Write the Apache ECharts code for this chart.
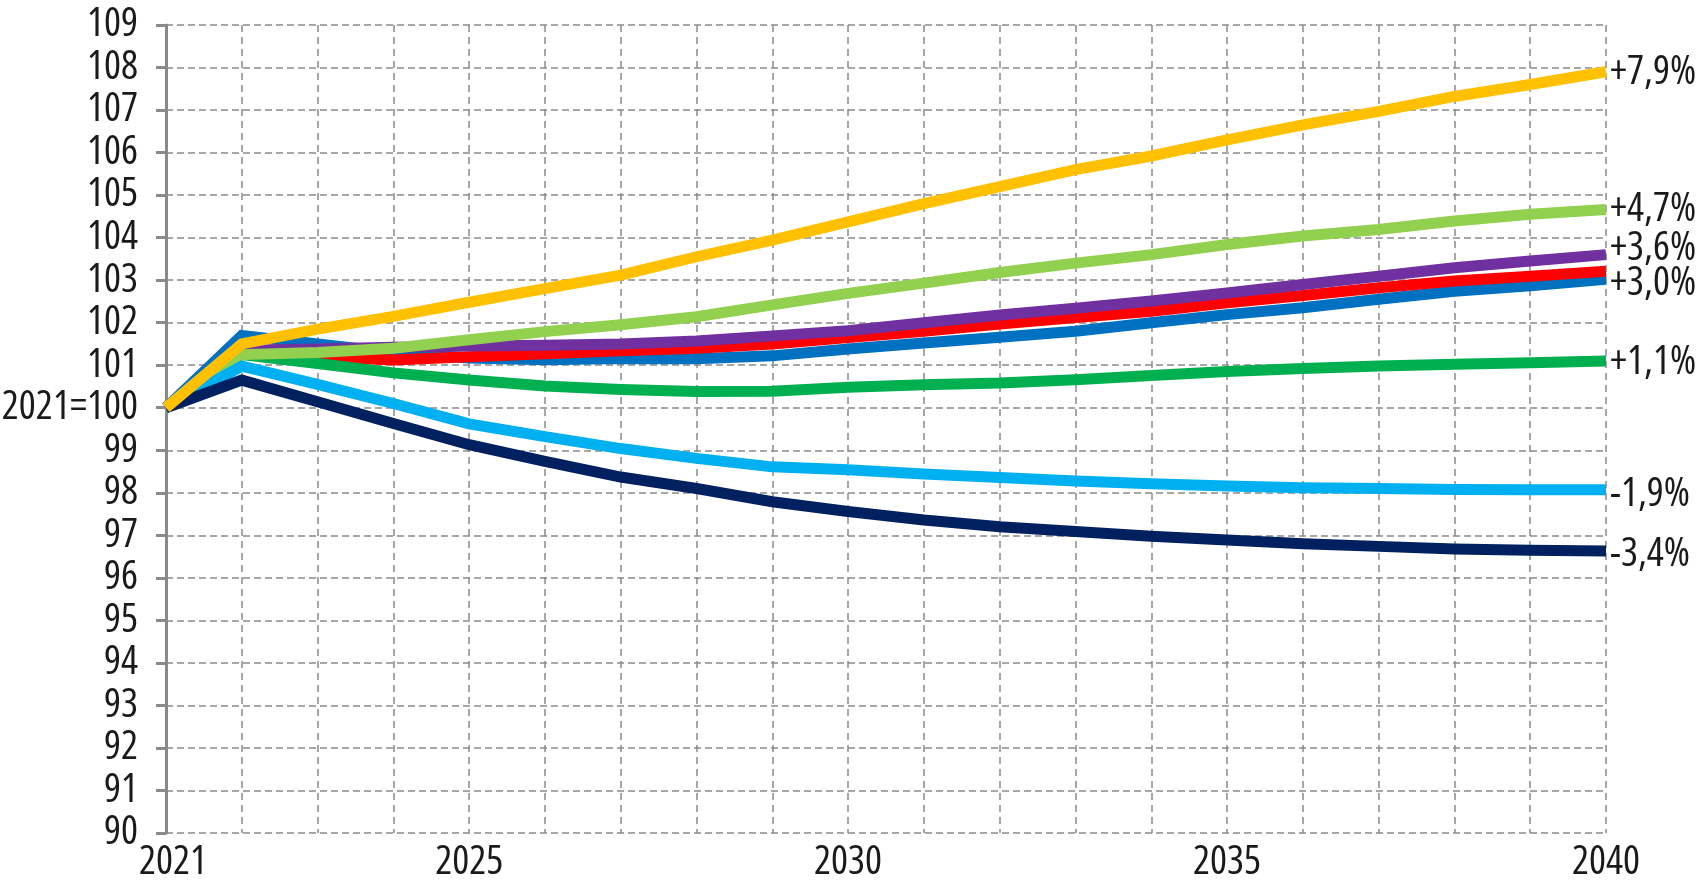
<!DOCTYPE html>
<html>
<head>
<meta charset="utf-8">
<script src="https://cdn.jsdelivr.net/npm/echarts@6/dist/echarts.min.js"></script>
<style>
html,body{margin:0;padding:0;background:#fff;}
#chart{width:1705px;height:881px;}
</style>
</head>
<body>
<div id="chart"></div>
<script>
const years = [2021,2022,2023,2024,2025,2026,2027,2028,2029,2030,2031,2032,2033,2034,2035,2036,2037,2038,2039,2040];
const xTickLabels = [2021, 2025, 2030, 2035, 2040];
const baseLabel = '2021=100';

const blue       = [100,101.7,101.5,101.3,101.17,101.13,101.16,101.15,101.22,101.38,101.52,101.66,101.8,102.0,102.19,102.35,102.55,102.74,102.87,103.02];
const red        = [100,101.3,101.2,101.12,101.2,101.27,101.34,101.4,101.5,101.65,101.8,101.97,102.12,102.27,102.47,102.64,102.82,102.98,103.09,103.21];
const purple     = [100,101.35,101.38,101.42,101.45,101.47,101.5,101.57,101.69,101.81,102.0,102.18,102.34,102.51,102.7,102.9,103.09,103.29,103.45,103.6];
const green      = [100,101.25,101.04,100.82,100.65,100.51,100.43,100.38,100.39,100.48,100.54,100.58,100.66,100.76,100.85,100.92,100.98,101.02,101.06,101.1];
const lightGreen = [100,101.25,101.3,101.4,101.6,101.79,101.95,102.14,102.42,102.69,102.93,103.18,103.4,103.6,103.84,104.04,104.19,104.39,104.55,104.66];
const lightBlue  = [100,100.98,100.55,100.1,99.62,99.32,99.04,98.81,98.61,98.54,98.44,98.36,98.28,98.21,98.16,98.12,98.1,98.08,98.07,98.07];
const navy       = [100,100.65,100.14,99.63,99.13,98.74,98.37,98.1,97.79,97.56,97.36,97.2,97.09,96.98,96.89,96.8,96.74,96.68,96.65,96.63];
const yellow     = [100,101.5,101.85,102.15,102.48,102.8,103.12,103.55,103.94,104.37,104.8,105.2,105.6,105.92,106.3,106.65,106.97,107.32,107.6,107.9];

const endLabels = {
  blue: '+3,0%', red: '', purple: '+3,6%', green: '+1,1%',
  lightGreen: '+4,7%', lightBlue: '-1,9%', navy: '-3,4%', yellow: '+7,9%'
};

const FONT = '"Open Sans", Roboto, sans-serif';
const FSTYLE = 'condensed';
const FSIZE = 40;

function mk(name, data, color, label, offsetY) {
  return {
    name: name,
    type: 'line',
    data: years.map((y, i) => [y, data[i]]),
    showSymbol: false,
    symbol: 'none',
    silent: true,
    lineStyle: { color: color, width: 11, join: 'miter', cap: 'butt' },
    endLabel: {
      show: label !== '',
      formatter: () => label,
      color: '#1a1a1a',
      fontSize: FSIZE,
      fontStyle: FSTYLE,
      fontFamily: FONT,
      distance: 4,
      offset: [0, offsetY]
    },
    animation: false
  };
}

const chart = echarts.init(document.getElementById('chart'));
chart.setOption({
  animation: false,
  backgroundColor: '#ffffff',
  grid: { left: 166, right: 99, top: 25, bottom: 48, containLabel: false, outerBoundsMode: 'none' },
  xAxis: {
    type: 'value',
    min: 2021, max: 2040, interval: 1,
    axisLine: { show: false },
    axisTick: { show: false },
    axisLabel: {
      margin: 10,
      fontSize: FSIZE,
      fontStyle: FSTYLE,
      fontFamily: FONT,
      color: '#1a1a1a',
      formatter: v => {
        if (xTickLabels.indexOf(v) < 0) return '';
        return v === xTickLabels[0] ? '{first|' + v + '}' : String(v);
      },
      rich: {
        first: { fontSize: FSIZE, fontStyle: FSTYLE, fontFamily: FONT, color: '#1a1a1a', padding: [0, 0, 0, 14] }
      }
    },
    splitLine: { show: true, lineStyle: { color: '#8a8a8a', width: 1.5, type: [7, 5] } }
  },
  yAxis: {
    type: 'value',
    min: 90, max: 109, interval: 1,
    axisLine: { show: true, lineStyle: { color: '#8a8a8a', width: 3 } },
    axisTick: { show: true, inside: false, length: 10, lineStyle: { color: '#8a8a8a', width: 3 } },
    axisLabel: {
      margin: 28,
      fontSize: FSIZE,
      fontStyle: FSTYLE,
      fontFamily: FONT,
      color: '#1a1a1a',
      formatter: v => v === 100 ? baseLabel : String(v)
    },
    splitLine: { show: true, lineStyle: { color: '#8a8a8a', width: 1.5, type: [7, 4] } }
  },
  series: [
    mk('blue', blue, '#0070C0', endLabels.blue, 4),
    mk('red', red, '#FF0000', endLabels.red, 0),
    mk('purple', purple, '#7030A0', endLabels.purple, -6),
    mk('green', green, '#00B050', endLabels.green, 2),
    mk('lightGreen', lightGreen, '#92D050', endLabels.lightGreen, 0),
    mk('lightBlue', lightBlue, '#00B0F0', endLabels.lightBlue, 5),
    mk('navy', navy, '#002060', endLabels.navy, 4),
    mk('yellow', yellow, '#FFC000', endLabels.yellow, 1)
  ]
});
</script>
</body>
</html>
